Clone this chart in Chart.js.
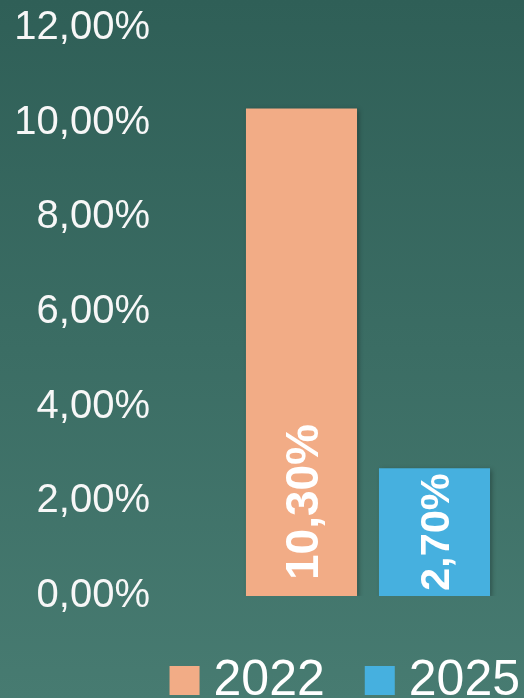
<!DOCTYPE html>
<html>
<head>
<meta charset="utf-8">
<script src="https://cdn.jsdelivr.net/npm/chart.js@4.4.0/dist/chart.umd.min.js"></script>
<style>
  html, body { margin: 0; padding: 0; }
  body {
    width: 524px;
    height: 698px;
    overflow: hidden;
    background: linear-gradient(to bottom, #2f5f57 0%, #3b6d64 50%, #477b71 100%);
  }
  #contenedor { position: relative; width: 524px; height: 698px; }
</style>
</head>
<body>
<div id="contenedor"><canvas id="grafico"></canvas></div>
<script>
// Datos
const categorias = [''];
const anios = ['2022', '2025'];
const valores = [10.30, 2.70];
const ticksY = [0, 2, 4, 6, 8, 10, 12];
const etiquetasY = ['0,00%', '2,00%', '4,00%', '6,00%', '8,00%', '10,00%', '12,00%'];
const colores = ['#f2ac86', '#46b0df'];

function formatoPorcentaje(v) {
    return v.toFixed(2).replace('.', ',') + '%';
}

// sombra de las barras + etiqueta vertical dentro de cada barra
const etiquetasBarras = {
    id: 'etiquetasBarras',
    beforeDatasetsDraw(chart) {
        const ctx = chart.ctx;
        ctx.save();
        ctx.shadowColor = 'rgba(0, 0, 0, 0.35)';
        ctx.shadowBlur = 5;
        ctx.shadowOffsetX = 2;
        ctx.shadowOffsetY = 2;
    },
    afterDatasetsDraw(chart) {
        const ctx = chart.ctx;
        ctx.restore();
        chart.data.datasets.forEach((ds, i) => {
            const meta = chart.getDatasetMeta(i);
            meta.data.forEach((barra, j) => {
                const texto = formatoPorcentaje(ds.data[j]);
                const alto = barra.base - barra.y;
                ctx.save();
                ctx.font = 'bold 1px "Liberation Sans"';
                const anchoUnidad = ctx.measureText(texto).width;
                const tam = Math.min(46, (alto - 10) / anchoUnidad);
                ctx.font = 'bold ' + tam + 'px "Liberation Sans"';
                const ancho = ctx.measureText(texto).width;
                let inicio = barra.base - 16;
                if (ancho + 32 > alto) {
                    inicio = barra.base - (alto - ancho) / 2;
                }
                ctx.translate(barra.x, inicio);
                ctx.rotate(-Math.PI / 2);
                ctx.fillStyle = '#ffffff';
                ctx.textAlign = 'left';
                ctx.textBaseline = 'alphabetic';
                ctx.fillText(texto, 0, tam * 0.358);
                ctx.restore();
            });
        });
    }
};

// leyenda abajo a la derecha
const leyenda = {
    id: 'leyenda',
    afterDraw(chart) {
        const ctx = chart.ctx;
        const caja = 30, hueco = 14, separacion = 40;
        ctx.save();
        ctx.font = '50px "Liberation Sans"';
        const items = chart.data.datasets.map(d => ({
            texto: d.label,
            color: d.backgroundColor,
            ancho: caja + hueco + ctx.measureText(d.label).width
        }));
        const total = items.reduce((s, it) => s + it.ancho, 0) + separacion * (items.length - 1);
        let x = chart.chartArea.right - total;
        const y = 695;
        items.forEach(it => {
            ctx.fillStyle = it.color;
            ctx.fillRect(x, y - 29, caja, 29);
            ctx.fillStyle = '#ffffff';
            ctx.textAlign = 'left';
            ctx.textBaseline = 'alphabetic';
            ctx.fillText(it.texto, x + caja + hueco, y);
            x += it.ancho + separacion;
        });
        ctx.restore();
    }
};

new Chart(document.getElementById('grafico'), {
    type: 'bar',
    data: {
        labels: categorias,
        datasets: anios.map((a, i) => ({
            label: a,
            data: [valores[i]],
            backgroundColor: colores[i],
            categoryPercentage: 0.875,
            barPercentage: 0.835
        }))
    },
    options: {
        responsive: true,
        maintainAspectRatio: false,
        animation: false,
        layout: {
            padding: { top: 28, right: 4, bottom: 102, left: 0 }
        },
        plugins: {
            legend: { display: false },
            tooltip: { enabled: false }
        },
        scales: {
            x: { display: false },
            y: {
                min: 0,
                max: 12,
                afterFit: (escala) => {
                    escala.width = 216;
                    escala.paddingTop = 0;
                    escala.paddingBottom = 0;
                },
                afterBuildTicks: (escala) => { escala.ticks = ticksY.map(v => ({ value: v })); },
                grid: { display: false, drawTicks: false },
                border: { display: false },
                ticks: {
                    padding: 66,
                    color: '#f7f7f7',
                    font: { family: 'Liberation Sans', size: 40 },
                    callback: (v) => etiquetasY[ticksY.indexOf(v)]
                }
            }
        }
    },
    plugins: [etiquetasBarras, leyenda]
});
</script>
</body>
</html>
